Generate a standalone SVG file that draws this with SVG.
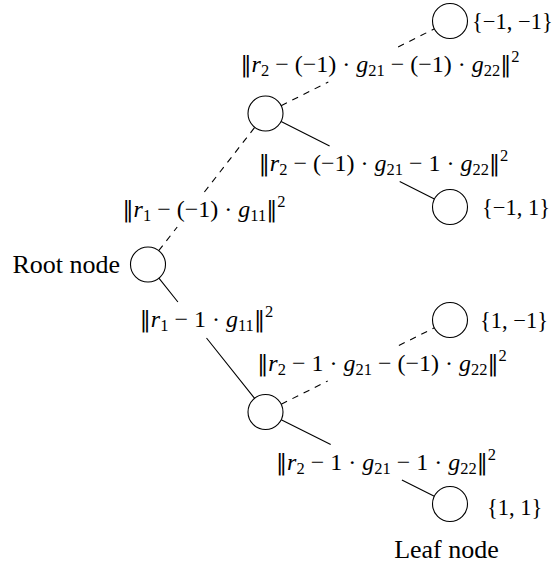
<svg xmlns="http://www.w3.org/2000/svg" width="554" height="568" viewBox="0 0 554 568">
<style>
.bg{fill:#fff}
.nd{fill:none;stroke:#000;stroke-width:1.1}
.e{stroke:#000;stroke-width:1.1;fill:none}
.d{stroke-dasharray:6.5 6}
text{font-family:"Liberation Serif","Times New Roman",serif;fill:#000}
.m{font-size:24px}
.t{font-size:26px}
.set{font-size:22.5px}
.v{font-style:italic}
.s{font-size:16.5px}
.n{font-family:"DejaVu Serif",serif;font-size:22px}
</style>
<rect class="bg" x="0" y="0" width="554" height="568"/>
<g id="connectors">
<path class="e d" d="M158.7,250.7 L177.2,227 M204.4,192 L254.8,127.3"/>
<path class="e" d="M158.9,278.2 L177.9,302 M206.5,338 L254.6,398.3"/>
<path class="e d" d="M281.1,105.7 L328.3,82 M398.1,47 L434.4,28.8"/>
<path class="e" d="M281.1,121.4 L329.6,146 M399.7,181.5 L434.4,199.1"/>
<path class="e d" d="M281.2,404.2 L327.7,381 M398.9,345.5 L434.3,327.8"/>
<path class="e" d="M281.2,419.8 L330.7,444.5 M401.9,480 L434.3,496.2"/>
</g>
<g id="edge-labels">
<text class="m" x="204" y="217" text-anchor="middle"><tspan class="n">‖</tspan><tspan class="v">r</tspan><tspan class="s" dy="4">1</tspan><tspan dy="-4"> − (−1) · </tspan><tspan class="v">g</tspan><tspan class="s" dy="4">11</tspan><tspan class="n" dy="-4">‖</tspan><tspan class="s" dy="-10">2</tspan></text>
<text class="m" x="206.5" y="327" text-anchor="middle"><tspan class="n">‖</tspan><tspan class="v">r</tspan><tspan class="s" dy="4">1</tspan><tspan dy="-4"> − 1 · </tspan><tspan class="v">g</tspan><tspan class="s" dy="4">11</tspan><tspan class="n" dy="-4">‖</tspan><tspan class="s" dy="-10">2</tspan></text>
<text class="m" x="380" y="72" text-anchor="middle"><tspan class="n">‖</tspan><tspan class="v">r</tspan><tspan class="s" dy="4">2</tspan><tspan dy="-4"> − (−1) · </tspan><tspan class="v">g</tspan><tspan class="s" dy="4">21</tspan><tspan dy="-4"> − (−1) · </tspan><tspan class="v">g</tspan><tspan class="s" dy="4">22</tspan><tspan class="n" dy="-4">‖</tspan><tspan class="s" dy="-10">2</tspan></text>
<text class="m" x="383.5" y="171" text-anchor="middle"><tspan class="n">‖</tspan><tspan class="v">r</tspan><tspan class="s" dy="4">2</tspan><tspan dy="-4"> − (−1) · </tspan><tspan class="v">g</tspan><tspan class="s" dy="4">21</tspan><tspan dy="-4"> − 1 · </tspan><tspan class="v">g</tspan><tspan class="s" dy="4">22</tspan><tspan class="n" dy="-4">‖</tspan><tspan class="s" dy="-10">2</tspan></text>
<text class="m" x="382" y="370.5" text-anchor="middle"><tspan class="n">‖</tspan><tspan class="v">r</tspan><tspan class="s" dy="4">2</tspan><tspan dy="-4"> − 1 · </tspan><tspan class="v">g</tspan><tspan class="s" dy="4">21</tspan><tspan dy="-4"> − (−1) · </tspan><tspan class="v">g</tspan><tspan class="s" dy="4">22</tspan><tspan class="n" dy="-4">‖</tspan><tspan class="s" dy="-10">2</tspan></text>
<text class="m" x="386" y="469.5" text-anchor="middle"><tspan class="n">‖</tspan><tspan class="v">r</tspan><tspan class="s" dy="4">2</tspan><tspan dy="-4"> − 1 · </tspan><tspan class="v">g</tspan><tspan class="s" dy="4">21</tspan><tspan dy="-4"> − 1 · </tspan><tspan class="v">g</tspan><tspan class="s" dy="4">22</tspan><tspan class="n" dy="-4">‖</tspan><tspan class="s" dy="-10">2</tspan></text>
</g>
<g id="root">
<circle class="nd" cx="148" cy="264.5" r="17.5"/>
<text class="t" x="120" y="273" text-anchor="end">Root node</text>
</g>
<g id="n-minus1">
<circle class="nd" cx="265.5" cy="113.5" r="17.5"/>
</g>
<g id="n-plus1">
<circle class="nd" cx="265.5" cy="412" r="17.5"/>
</g>
<g id="leaf-mm">
<circle class="nd" cx="450" cy="21" r="17.5"/>
<text class="set" x="472" y="29">{−1, −1}</text>
</g>
<g id="leaf-mp">
<circle class="nd" cx="450" cy="207" r="17.5"/>
<text class="set" x="482" y="215">{−1, 1}</text>
</g>
<g id="leaf-pm">
<circle class="nd" cx="450" cy="320" r="17.5"/>
<text class="set" x="480" y="328">{1, −1}</text>
</g>
<g id="leaf-pp">
<circle class="nd" cx="450" cy="504" r="17.5"/>
<text class="set" x="487" y="515">{1, 1}</text>
</g>
<g id="leaf-caption">
<text class="t" x="446.5" y="558" text-anchor="middle">Leaf node</text>
</g>
</svg>
